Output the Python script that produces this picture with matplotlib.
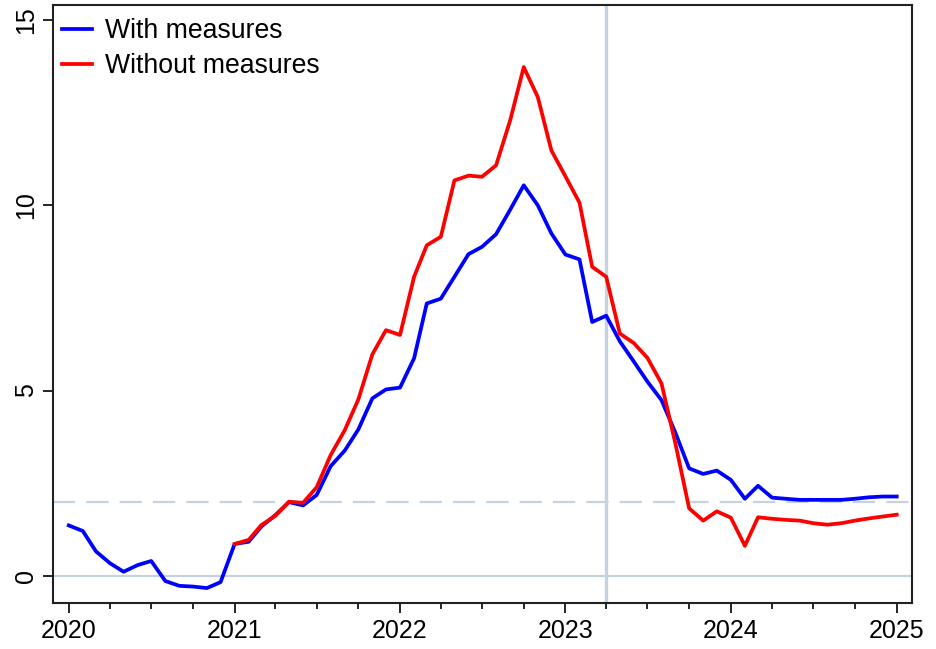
import numpy as np
import pandas as pd
import matplotlib
matplotlib.use("Agg")
from matplotlib import pyplot as plt
import matplotlib.dates as mdates

plt.rcParams['font.family'] = ['Liberation Sans', 'DejaVu Sans']

# monthly series
with_dates = pd.date_range("2020-01-01", "2025-01-01", freq="MS")
with_measures = [
  1.36, 1.21, 0.66, 0.34, 0.11, 0.29, 0.40, -0.14, -0.27, -0.29, -0.33, -0.17,
  0.86, 0.92, 1.33, 1.64, 1.99, 1.90, 2.18, 2.96, 3.38, 3.95, 4.79, 5.03,
  5.08, 5.87, 7.35, 7.48, 8.07, 8.68, 8.88, 9.22, 9.88, 10.54, 10.00, 9.24,
  8.67, 8.54, 6.85, 7.02, 6.33, 5.78, 5.24, 4.74, 3.85, 2.90, 2.75, 2.84,
  2.59, 2.08, 2.43, 2.11, 2.08, 2.05, 2.05, 2.05, 2.05, 2.08, 2.12, 2.14,
  2.14,
]

without_dates = pd.date_range("2021-01-01", "2025-01-01", freq="MS")
without_measures = [
  0.86, 0.97, 1.37, 1.62, 2.00, 1.97, 2.39, 3.26, 3.93, 4.76, 5.98, 6.63,
  6.50, 8.07, 8.92, 9.15, 10.67, 10.80, 10.77, 11.08, 12.29, 13.73, 12.92, 11.48,
  10.78, 10.07, 8.34, 8.07, 6.54, 6.28, 5.88, 5.19, 3.55, 1.82, 1.49, 1.74,
  1.57, 0.81, 1.58, 1.54, 1.51, 1.49, 1.42, 1.38, 1.42, 1.49, 1.55, 1.60,
  1.65,
]

target = 2.0
forecast_start = pd.Timestamp("2023-04-01")
ref_color = '#c5d2e1'

fig = plt.figure(figsize=(9.36, 6.49), dpi=100)
ax = fig.add_axes([0.057, 0.0705, 0.917, 0.9215])

ax.axhline(0, color=ref_color, lw=1.6, zorder=1)
ax.axhline(target, color=ref_color, lw=1.6, ls=(0, (10, 5)), zorder=1)
ax.axvline(forecast_start, color=ref_color, lw=2.4, zorder=1)

ax.plot(with_dates, with_measures, color='#0000ff', lw=2.7, label='With measures', zorder=3)
ax.plot(without_dates, without_measures, color='#ff0000', lw=2.7, label='Without measures', zorder=4)

ax.set_xlim(pd.Timestamp("2019-11-28"), pd.Timestamp("2025-02-03"))
ax.set_ylim(-0.74, 15.4)

ax.xaxis.set_major_locator(mdates.YearLocator())
ax.xaxis.set_major_formatter(mdates.DateFormatter('%Y'))
ax.xaxis.set_minor_locator(mdates.MonthLocator(bymonth=[4, 7, 10]))
ax.set_yticks([0, 5, 10, 15])

ax.tick_params(axis='both', which='major', direction='out', length=7, width=1.2, labelsize=18, pad=4)
ax.tick_params(axis='x', which='minor', direction='out', length=4, width=1.2)
ax.tick_params(axis='y', which='major', labelrotation=90)
for lbl in ax.get_yticklabels():
  lbl.set_va('center')

for side in ax.spines.values():
  side.set_linewidth(1.5)
  side.set_color('#222222')

ax.legend(loc='upper left', frameon=False, fontsize=19.2, handlelength=1.12,
          handletextpad=0.49, borderaxespad=0.0, borderpad=0.33, labelspacing=0.34,
          bbox_to_anchor=(0.0, 0.993))

fig.savefig('out.png', dpi=100)
